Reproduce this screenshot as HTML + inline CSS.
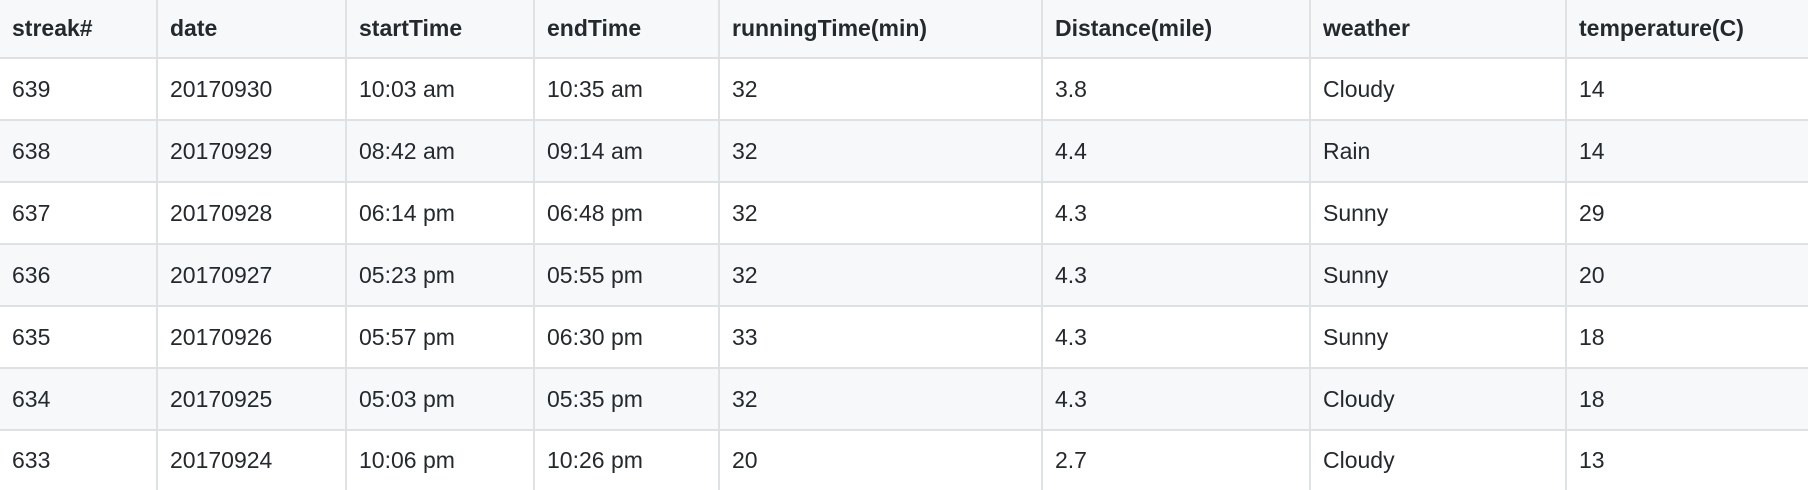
<!DOCTYPE html>
<html><head><meta charset="utf-8"><style>
html,body{margin:0;padding:0;background:#fff;width:1808px;height:490px;overflow:hidden}
table{border-collapse:collapse;table-layout:fixed;width:1812px;margin-left:-2px;margin-top:-2px;font-family:"Liberation Sans",Arial,sans-serif;font-size:23px;color:#24292e}
td,th{border:2px solid #dfe2e5;padding:0 0 0 12px;text-align:left;vertical-align:middle;white-space:nowrap;overflow:hidden}
th{font-weight:bold;background:#f6f8fa;height:57px}
tr.r td{height:60px}
tr.g td{background:#f6f8fa}
tr.last td{height:59px}
</style></head><body>
<table>
<colgroup><col style="width:158px"><col style="width:189px"><col style="width:188px"><col style="width:185px"><col style="width:323px"><col style="width:268px"><col style="width:256px"><col style="width:245px"></colgroup>
<thead><tr>
<th>streak#</th>
<th>date</th>
<th>startTime</th>
<th>endTime</th>
<th>runningTime(min)</th>
<th>Distance(mile)</th>
<th>weather</th>
<th>temperature(C)</th>
</tr></thead>
<tbody>
<tr class="r"><td>639</td><td>20170930</td><td>10:03 am</td><td>10:35 am</td><td>32</td><td>3.8</td><td>Cloudy</td><td>14</td></tr>
<tr class="r g"><td>638</td><td>20170929</td><td>08:42 am</td><td>09:14 am</td><td>32</td><td>4.4</td><td>Rain</td><td>14</td></tr>
<tr class="r"><td>637</td><td>20170928</td><td>06:14 pm</td><td>06:48 pm</td><td>32</td><td>4.3</td><td>Sunny</td><td>29</td></tr>
<tr class="r g"><td>636</td><td>20170927</td><td>05:23 pm</td><td>05:55 pm</td><td>32</td><td>4.3</td><td>Sunny</td><td>20</td></tr>
<tr class="r"><td>635</td><td>20170926</td><td>05:57 pm</td><td>06:30 pm</td><td>33</td><td>4.3</td><td>Sunny</td><td>18</td></tr>
<tr class="r g"><td>634</td><td>20170925</td><td>05:03 pm</td><td>05:35 pm</td><td>32</td><td>4.3</td><td>Cloudy</td><td>18</td></tr>
<tr class="r last"><td>633</td><td>20170924</td><td>10:06 pm</td><td>10:26 pm</td><td>20</td><td>2.7</td><td>Cloudy</td><td>13</td></tr>
</tbody></table>
</body></html>
